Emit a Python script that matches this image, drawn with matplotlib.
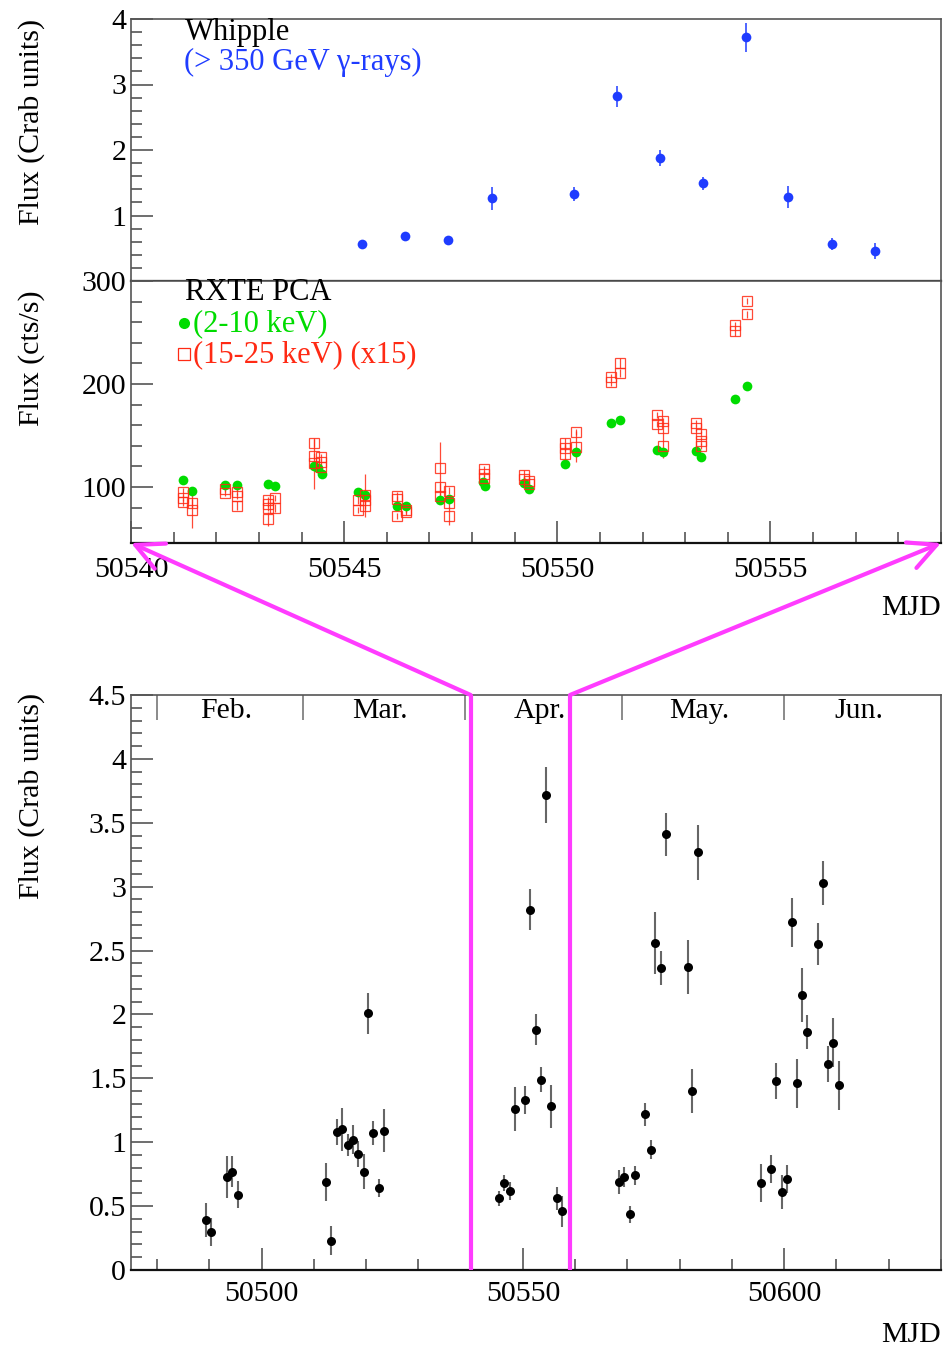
import matplotlib
matplotlib.use("Agg")
import matplotlib.pyplot as plt
from matplotlib.ticker import FixedLocator, MultipleLocator
from matplotlib.patches import ConnectionPatch

plt.rcParams['font.family'] = ['Liberation Serif', 'DejaVu Serif']

# ---------------- Whipple TeV light curve (Crab units) ----------------
whipple_mjd = [50489.35, 50490.40, 50493.40, 50494.40, 50495.40, 50512.40, 50513.35,
               50514.40, 50515.40, 50516.50, 50517.40, 50518.50, 50519.50, 50520.40,
               50521.40, 50522.40, 50523.45,
               50545.43, 50546.43, 50547.44, 50548.46, 50550.39, 50551.39, 50552.41,
               50553.41, 50554.42, 50555.42, 50556.44, 50557.45,
               50568.33, 50569.35, 50570.44, 50571.46, 50573.37, 50574.50, 50575.30,
               50576.45, 50577.47, 50581.60, 50582.40, 50583.50,
               50595.50, 50597.40, 50598.40, 50599.50, 50600.50, 50601.50, 50602.50,
               50603.45, 50604.40, 50606.50, 50607.50, 50608.40, 50609.40, 50610.50]
whipple_flux = [0.39, 0.30, 0.73, 0.77, 0.59, 0.69, 0.23,
                1.08, 1.10, 0.98, 1.02, 0.91, 0.77, 2.01,
                1.07, 0.64, 1.09,
                0.56, 0.68, 0.62, 1.26, 1.33, 2.82, 1.88,
                1.49, 3.72, 1.28, 0.56, 0.46,
                0.69, 0.73, 0.435, 0.74, 1.22, 0.94, 2.56,
                2.365, 3.41, 2.37, 1.40, 3.27,
                0.68, 0.79, 1.48, 0.61, 0.71, 2.72, 1.46,
                2.15, 1.86, 2.55, 3.03, 1.61, 1.78, 1.445]
whipple_err = [0.135, 0.11, 0.165, 0.12, 0.107, 0.15, 0.115,
               0.10, 0.17, 0.086, 0.115, 0.10, 0.137, 0.16,
               0.095, 0.07, 0.17,
               0.06, 0.06, 0.07, 0.17, 0.11, 0.16, 0.12,
               0.10, 0.22, 0.17, 0.09, 0.12,
               0.094, 0.08, 0.064, 0.077, 0.09, 0.075, 0.24,
               0.134, 0.17, 0.21, 0.17, 0.215,
               0.15, 0.11, 0.14, 0.13, 0.11, 0.195, 0.19,
               0.21, 0.134, 0.165, 0.17, 0.14, 0.19, 0.19]

# ---------------- RXTE PCA, 2-10 keV (cts/s) ----------------
pca_soft_mjd = [50541.23, 50541.42, 50542.21, 50542.49, 50543.21, 50543.37,
                50544.30, 50544.38, 50544.47, 50545.33, 50545.48, 50546.25,
                50546.46, 50547.25, 50547.45, 50548.25, 50548.30, 50549.21,
                50549.33, 50550.19, 50550.45, 50551.27, 50551.46, 50552.34,
                50552.47, 50553.25, 50553.37, 50554.16, 50554.44]
pca_soft_rate = [107.0, 96.0, 102.0, 102.0, 103.0, 101.0,
                 120.0, 118.0, 113.0, 95.5, 92.0, 82.0,
                 82.0, 87.0, 88.0, 105.0, 101.0, 103.5,
                 98.0, 122.0, 133.5, 162.0, 165.5, 136.0,
                 133.5, 135.0, 129.0, 185.5, 198.5]

# ---------------- RXTE PCA, 15-25 keV scaled x15 (cts/s) ----------------
pca_hard_mjd = [50541.23, 50541.23, 50541.23, 50541.42, 50541.42,
                50542.21, 50542.21, 50542.49, 50542.49, 50542.49,
                50543.21, 50543.21, 50543.21, 50543.21, 50543.37, 50543.37,
                50544.30, 50544.30, 50544.30, 50544.45, 50544.45, 50544.45,
                50545.33, 50545.33, 50545.48, 50545.48, 50545.48,
                50546.25, 50546.25, 50546.25, 50546.46, 50546.46,
                50547.25, 50547.25, 50547.25, 50547.45, 50547.45, 50547.45,
                50548.28, 50548.28, 50548.28, 50549.21, 50549.21, 50549.33, 50549.33,
                50550.19, 50550.19, 50550.19, 50550.45, 50550.45,
                50551.27, 50551.27, 50551.46, 50551.46,
                50552.34, 50552.34, 50552.47, 50552.47, 50552.47,
                50553.25, 50553.25, 50553.37, 50553.37, 50553.37,
                50554.16, 50554.16, 50554.44, 50554.44]
pca_hard_rate = [95.0, 89.5, 85.0, 84.0, 78.0,
                 98.0, 94.5, 95.5, 91.5, 82.0,
                 87.5, 83.5, 80.0, 69.0, 89.0, 79.5,
                 143.0, 130.0, 123.0, 129.0, 124.5, 119.0,
                 87.0, 78.0, 92.0, 87.0, 82.0,
                 91.0, 88.0, 72.0, 78.0, 76.0,
                 118.0, 99.5, 91.5, 96.5, 84.0, 72.0,
                 117.0, 112.5, 108.5, 112.0, 108.0, 106.0, 103.0,
                 142.5, 137.5, 132.0, 153.0, 139.0,
                 207.0, 201.5, 220.5, 210.5,
                 170.0, 161.0, 164.0, 157.5, 140.0,
                 162.0, 157.5, 151.5, 144.5, 140.0,
                 257.0, 251.0, 280.5, 267.5]
pca_hard_err = [4.0, 3.0, 3.0, 4.0, 18.0,
                3.0, 3.0, 3.0, 3.0, 4.0,
                3.0, 3.0, 3.0, 6.5, 3.0, 4.0,
                4.0, 3.0, 25.0, 3.0, 3.0, 3.0,
                4.0, 3.0, 21.0, 3.0, 3.0,
                4.0, 3.0, 3.0, 3.0, 3.0,
                26.0, 4.0, 3.0, 3.0, 4.0, 9.0,
                3.0, 3.0, 3.0, 4.0, 3.0, 3.0, 3.0,
                5.0, 3.0, 11.0, 3.0, 15.0,
                3.0, 3.0, 5.0, 4.0,
                3.0, 3.0, 3.0, 5.0, 12.0,
                3.0, 3.0, 3.0, 4.0, 3.0,
                3.0, 4.0, 3.0, 3.0]

# ---------------- month boundaries for the season overview ----------------
month_starts = [50480, 50508, 50539, 50569, 50600, 50630]
month_names = ['Feb.', 'Mar.', 'Apr.', 'May.', 'Jun.']

zoom_lo, zoom_hi = 50540, 50559
flux_ticks = [0, 0.5, 1, 1.5, 2, 2.5, 3, 3.5, 4, 4.5]
flux_tick_labels = ['0', '0.5', '1', '1.5', '2', '2.5', '3', '3.5', '4', '4.5']

BLUE = '#1f3cff'
GREEN = '#00dc00'
RED = '#ff2a14'
MAGENTA = '#ff3cff'
FRAME = '#555555'
FS = 21.5
LFS = 22

W, H = 943, 1349
fig = plt.figure(figsize=(W / 100, H / 100), dpi=100)


def fbox(x0, y0, x1, y1):
    return [x0 / W, 1 - y1 / H, (x1 - x0) / W, (y1 - y0) / H]


ax1 = fig.add_axes(fbox(131, 19, 941, 281))
ax2 = fig.add_axes(fbox(131, 281, 941, 543), sharex=ax1)
ax3 = fig.add_axes(fbox(131, 695, 941, 1270))


def style(ax):
    for side in ['top', 'right', 'left']:
        ax.spines[side].set_color(FRAME)
        ax.spines[side].set_linewidth(1.2)
    ax.spines['bottom'].set_color('#111111')
    ax.spines['bottom'].set_linewidth(1.6)
    ax.tick_params(which='both', direction='in', colors=FRAME, labelcolor='black',
                   labelsize=FS, width=1.2, top=False, right=False)
    ax.tick_params(which='major', length=16)
    ax.tick_params(which='minor', length=8)


for ax in (ax1, ax2, ax3):
    style(ax)

# --- top: Whipple zoom ---
ax1.errorbar(whipple_mjd, whipple_flux, yerr=whipple_err, fmt='o', color=BLUE,
             ms=7, mew=0, elinewidth=1.1, capsize=0)
ax1.set_xlim(zoom_lo, zoom_hi)
ax1.set_ylim(0, 4)
ax1.yaxis.set_major_locator(FixedLocator([1, 2, 3, 4]))
ax1.yaxis.set_minor_locator(MultipleLocator(0.2))
ax1.tick_params(axis='x', which='both', bottom=False, labelbottom=False)
ax1.text(0.067, 0.95, 'Whipple', transform=ax1.transAxes, fontsize=LFS,
         va='center', ha='left')
ax1.text(0.065, 0.835, '(> 350 GeV γ-rays)', transform=ax1.transAxes, fontsize=LFS,
         va='center', ha='left', color=BLUE)

# --- middle: RXTE PCA zoom ---
ax2.errorbar(pca_hard_mjd, pca_hard_rate, yerr=pca_hard_err, fmt='s', mfc='none',
             mec=RED, color=RED, ms=6.5, mew=0.9, elinewidth=0.9, capsize=0, alpha=0.85)
ax2.plot(pca_soft_mjd, pca_soft_rate, 'o', color=GREEN, ms=7, mew=0)
ax2.set_ylim(45.6, 300)
ax2.yaxis.set_major_locator(FixedLocator([100, 200, 300]))
ax2.yaxis.set_minor_locator(FixedLocator(list(range(60, 300, 20))))
ax2.xaxis.set_major_locator(MultipleLocator(5))
ax2.xaxis.set_minor_locator(MultipleLocator(1))
ax2.xaxis.set_major_formatter(plt.FuncFormatter(lambda v, p: f'{int(round(v))}'))
ax2.tick_params(axis='x', pad=10)
ax2.text(0.067, 0.955, 'RXTE PCA', transform=ax2.transAxes, fontsize=LFS,
         va='center', ha='left')
ax2.plot([0.066], [0.838], 'o', color=GREEN, ms=8, mew=0, transform=ax2.transAxes,
         clip_on=False)
ax2.text(0.077, 0.838, '(2-10 keV)', transform=ax2.transAxes, fontsize=LFS,
         va='center', ha='left', color=GREEN)
ax2.plot([0.066], [0.72], 's', mfc='none', mec=RED, ms=8, mew=0.9,
         transform=ax2.transAxes, clip_on=False)
ax2.text(0.077, 0.72, '(15-25 keV) (x15)', transform=ax2.transAxes, fontsize=LFS,
         va='center', ha='left', color=RED)

# --- bottom: full season ---
ax3.errorbar(whipple_mjd, whipple_flux, yerr=whipple_err, fmt='o', color='black',
             ecolor='#666666', ms=6.5, mew=0, elinewidth=1.5, capsize=0)
ax3.set_xlim(50475, 50630)
ax3.set_ylim(0, 4.5)
ax3.yaxis.set_major_locator(FixedLocator(flux_ticks))
ax3.set_yticklabels(flux_tick_labels)
ax3.yaxis.set_minor_locator(MultipleLocator(0.1))
ax3.xaxis.set_major_locator(MultipleLocator(50))
ax3.xaxis.set_minor_locator(MultipleLocator(10))
ax3.xaxis.set_major_formatter(plt.FuncFormatter(lambda v, p: f'{int(round(v))}'))
ax3.tick_params(axis='x', pad=8)
ax3.vlines(month_starts[:-1], 4.305, 4.5, color='#777777', lw=1.2)
for name, a, b in zip(month_names, month_starts[:-1], month_starts[1:]):
    ax3.text((a + b) / 2 - 0.8, 4.375, name, fontsize=FS, ha='center', va='center')

# zoom window markers
for x in (zoom_lo, zoom_hi):
    ax3.axvline(x, color=MAGENTA, lw=3, zorder=5)
    con = ConnectionPatch(xyA=(x, 4.5), coordsA=ax3.transData,
                          xyB=(x, 45.6), coordsB=ax2.transData,
                          arrowstyle='->,head_length=0.9,head_width=0.45',
                          mutation_scale=22, color=MAGENTA, lw=3, clip_on=False)
    fig.add_artist(con)

# axis titles
fig.text(32 / W, 1 - 19 / H, 'Flux (Crab units)', rotation=90, fontsize=FS,
         ha='center', va='top')
fig.text(32 / W, 1 - 290 / H, 'Flux (cts/s)', rotation=90, fontsize=FS,
         ha='center', va='top')
fig.text(32 / W, 1 - 693 / H, 'Flux (Crab units)', rotation=90, fontsize=FS,
         ha='center', va='top')
fig.text(941 / W, 1 - 608 / H, 'MJD', fontsize=FS, ha='right', va='center')
fig.text(941 / W, 1 - 1335 / H, 'MJD', fontsize=FS, ha='right', va='center')

fig.savefig('out.png', dpi=100)
